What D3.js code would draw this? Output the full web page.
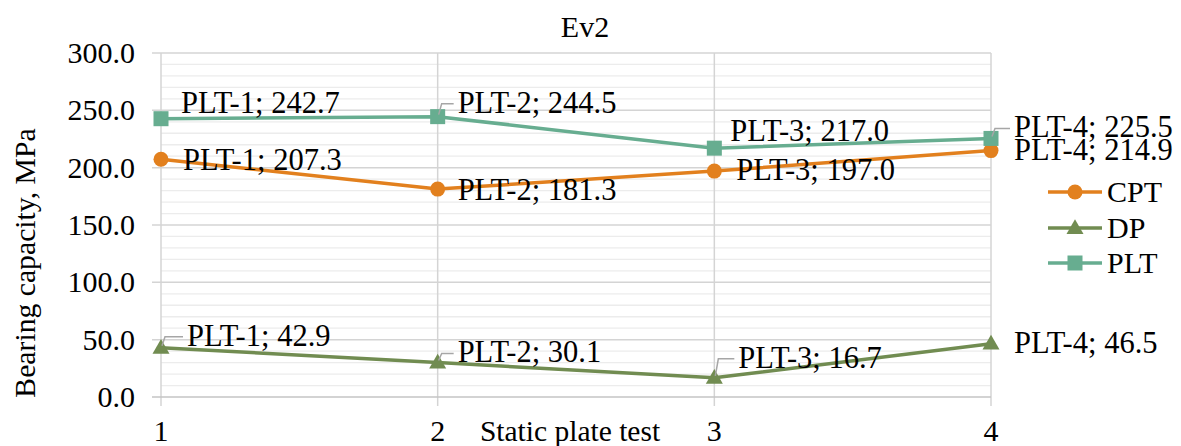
<!DOCTYPE html>
<html>
<head>
<meta charset="utf-8">
<script src="https://cdn.jsdelivr.net/npm/d3@7"></script>
</head>
<body style="margin:0; font-family: 'Liberation Serif', serif;">
<svg id="chart" width="1181" height="446" style="display:block; font-family: 'Liberation Serif', serif;"></svg>
<script>
// ---- data ----
const categories = [1, 2, 3, 4];
const seriesNames = ["CPT", "DP", "PLT"];
const cptValues = [207.3, 181.3, 197.0, 214.9];
const dpValues = [42.9, 30.1, 16.7, 46.5];
const pltValues = [242.7, 244.5, 217.0, 225.5];
const pointNames = ["PLT-1", "PLT-2", "PLT-3", "PLT-4"];
const yTicks = [0, 50, 100, 150, 200, 250, 300];
const chartTitle = "Ev2";
const xTitle = "Static plate test";
const yTitle = "Bearing capacity, MPa";

// ---- layout / style ----
const FONT = "Liberation Serif";
const colors = { CPT: "#E2801E", DP: "#718C51", PLT: "#67AD90" };
const markers = { CPT: "circle", DP: "triangle", PLT: "square" };
// label offsets (px) from each point, and whether a leader line is drawn
const labelLayout = {
  PLT: [{dx: 20, dy: -6, lead: false}, {dx: 20, dy: -4, lead: true}, {dx: 16, dy: -7, lead: false}, {dx: 23, dy: -1, lead: true}],
  CPT: [{dx: 22, dy: 11, lead: false}, {dx: 20, dy: 11, lead: false}, {dx: 22, dy: 9, lead: false}, {dx: 23, dy: 9, lead: false}],
  DP:  [{dx: 26, dy: -2, lead: true}, {dx: 20, dy: 0, lead: true}, {dx: 24, dy: -10, lead: true}, {dx: 23, dy: 9, lead: false}]
};

const series = [
  { name: "CPT", values: cptValues },
  { name: "DP", values: dpValues },
  { name: "PLT", values: pltValues }
];

const svg = d3.select("#chart");
const x = d3.scalePoint().domain(categories).range([161, 991]);
const y = d3.scaleLinear().domain([0, 300]).range([397, 53]);

function txt(sel) {
  return sel.attr("font-family", FONT).style("font-family", "'Liberation Serif', serif").attr("fill", "#000");
}

// minor gridlines (every 10)
const minor = d3.range(10, 300, 10).filter(v => v % 50 !== 0);
svg.append("g").selectAll("line").data(minor).join("line")
  .attr("x1", x(1)).attr("x2", x(4))
  .attr("y1", d => y(d)).attr("y2", d => y(d))
  .attr("stroke", "#ececec").attr("stroke-width", 1.3);

// vertical category gridlines with tick extension
svg.append("g").selectAll("line").data(categories).join("line")
  .attr("x1", d => x(d)).attr("x2", d => x(d))
  .attr("y1", y(300)).attr("y2", y(0) + 9)
  .attr("stroke", "#d4d4d4").attr("stroke-width", 1.5);

// major gridlines with tick extension to the left
svg.append("g").selectAll("line").data(yTicks).join("line")
  .attr("x1", x(1) - 9).attr("x2", x(4))
  .attr("y1", d => y(d)).attr("y2", d => y(d))
  .attr("stroke", d => d === 0 ? "#c4c4c4" : "#d4d4d4").attr("stroke-width", 1.5);

// y tick labels
txt(svg.append("g").selectAll("text").data(yTicks).join("text"))
  .attr("x", 135).attr("y", d => y(d) + 10)
  .attr("text-anchor", "end").attr("font-size", 30)
  .text(d => d.toFixed(1));

// x tick labels
txt(svg.append("g").selectAll("text").data(categories).join("text"))
  .attr("x", d => x(d)).attr("y", 441)
  .attr("text-anchor", "middle").attr("font-size", 30)
  .text(d => d);

// axis titles
txt(svg.append("text")).attr("x", 570).attr("y", 441).attr("text-anchor", "middle")
  .attr("font-size", 29.5).text(xTitle);
txt(svg.append("text")).attr("transform", "translate(35,263) rotate(-90)")
  .attr("text-anchor", "middle").attr("font-size", 29.7).text(yTitle);
txt(svg.append("text")).attr("x", 585).attr("y", 37).attr("text-anchor", "middle")
  .attr("font-size", 30).text(chartTitle);

// marker drawing helper
function drawMarker(g, type, cx, cy, color) {
  if (type === "circle") {
    g.append("circle").attr("cx", cx).attr("cy", cy).attr("r", 7.5).attr("fill", color);
  } else if (type === "square") {
    g.append("rect").attr("x", cx - 7.5).attr("y", cy - 7.5).attr("width", 15).attr("height", 15).attr("fill", color);
  } else {
    const s = 17;
    g.append("path").attr("d", d3.symbol(d3.symbolTriangle, s * s * 0.433)())
      .attr("transform", `translate(${cx},${cy + 1})`).attr("fill", color);
  }
}

const line = d3.line().x((d, i) => x(categories[i])).y(d => y(d));

series.forEach(s => {
  const g = svg.append("g");
  g.append("path").datum(s.values).attr("d", line)
    .attr("fill", "none").attr("stroke", colors[s.name]).attr("stroke-width", 3.5)
    .attr("stroke-linejoin", "round");
  s.values.forEach((v, i) => drawMarker(g, markers[s.name], x(categories[i]), y(v), colors[s.name]));
});

// data labels
series.forEach(s => {
  const g = svg.append("g");
  s.values.forEach((v, i) => {
    const px = x(categories[i]), py = y(v);
    const L = labelLayout[s.name][i];
    const tx = px + L.dx, ty = py + L.dy;
    if (L.lead) {
      const top = ty - 9;
      g.append("path")
        .attr("d", `M${px + 1},${py - 2}L${px + 4},${top}L${tx - 4},${top}`)
        .attr("fill", "none").attr("stroke", "#a6a6a6").attr("stroke-width", 1.5);
    }
    txt(g.append("text")).attr("x", tx).attr("y", ty).attr("font-size", 30.5)
      .text(`${pointNames[i]}; ${v.toFixed(1)}`);
  });
});

// legend
const legendY = [192, 228, 263];
seriesNames.forEach((n, i) => {
  const g = svg.append("g");
  const ly = legendY[i];
  g.append("line").attr("x1", 1048).attr("x2", 1102).attr("y1", ly).attr("y2", ly)
    .attr("stroke", colors[n]).attr("stroke-width", 3.5);
  drawMarker(g, markers[n], 1075, ly, colors[n]);
  txt(g.append("text")).attr("x", 1107).attr("y", ly + 10).attr("font-size", 30).text(n);
});
</script>
</body>
</html>
